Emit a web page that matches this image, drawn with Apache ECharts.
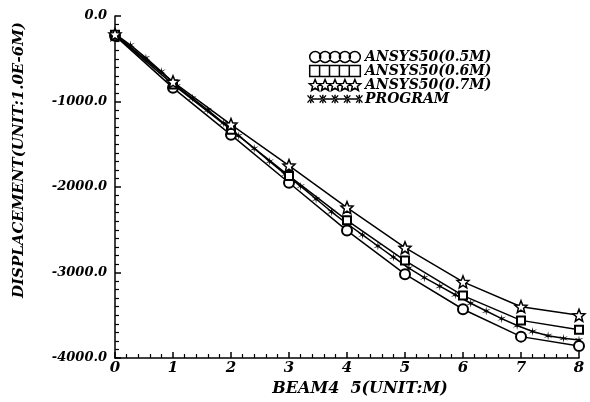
<!DOCTYPE html>
<html>
<head>
<meta charset="utf-8">
<script src="https://cdn.jsdelivr.net/npm/echarts@6/dist/echarts.min.js"></script>
<style>
  html, body { margin: 0; padding: 0; background: #fff; }
  #chart { width: 590px; height: 402px; }
</style>
</head>
<body>
<div id="chart"></div>
<script>
// beam positions (m)
var xStations = [0, 1, 2, 3, 4, 5, 6, 7, 8];
var ansys05 = [-230, -840, -1390, -1950, -2510, -3020, -3430, -3750, -3860];
var ansys06 = [-220, -800, -1330, -1870, -2390, -2860, -3270, -3560, -3670];
var ansys07 = [-215, -770, -1270, -1750, -2240, -2710, -3110, -3400, -3500];

// program output, 30 steps along the beam
var progX = [0, 0.267, 0.533, 0.8, 1.067, 1.333, 1.6, 1.867, 2.133, 2.4, 2.667, 2.933,
    3.2, 3.467, 3.733, 4, 4.267, 4.533, 4.8, 5.067, 5.333, 5.6, 5.867, 6.133, 6.4,
    6.667, 6.933, 7.2, 7.467, 7.733, 8];
var progY = [-210, -340, -490, -650, -820, -960, -1100, -1250, -1400, -1550, -1700, -1850,
    -1990, -2140, -2290, -2430, -2560, -2690, -2820, -2950, -3060, -3160, -3260, -3360, -3450,
    -3540, -3620, -3690, -3740, -3770, -3790];

var seriesNames = ['ANSYS50(0.5M)', 'ANSYS50(0.6M)', 'ANSYS50(0.7M)', 'PROGRAM'];

var FONT = 'DejaVu Serif';
var STAR = 'path://M0,-10 L2.6,-3.6 9.5,-3.1 4.2,1.4 5.9,8.1 0,4.4 -5.9,8.1 -4.2,1.4 -9.5,-3.1 -2.6,-3.6 Z';
var ASTER = 'path://M0,-10 L1.2,-2.1 8.7,-5 2.4,0 8.7,5 1.2,2.1 0,10 -1.2,2.1 -8.7,5 -2.4,0 -8.7,-5 -1.2,-2.1 Z';

function pairs(xs, ys) {
    var out = [];
    for (var i = 0; i < xs.length; i++) out.push([xs[i], ys[i]]);
    return out;
}

// legend icons: a row of five markers
function rowIcon(one, step) {
    var p = 'path://';
    for (var i = 0; i < 5; i++) p += one(i * step);
    return p;
}
var circleRow = rowIcon(function (cx) {
    return 'M' + (cx - 5) + ',0 A5,5 0 1,0 ' + (cx + 5) + ',0 A5,5 0 1,0 ' + (cx - 5) + ',0 Z ';
}, 9);
var rectRow = 'path://M0,-5 L46,-5 L46,5 L0,5 Z M9,-5 L9,5 M18,-5 L18,5 M27,-5 L27,5 M36,-5 L36,5';
var starRow = rowIcon(function (cx) {
    var pts = [[0,-10],[2.6,-3.6],[9.5,-3.1],[4.2,1.4],[5.9,8.1],[0,4.4],[-5.9,8.1],[-4.2,1.4],[-9.5,-3.1],[-2.6,-3.6]];
    var s = '';
    for (var j = 0; j < pts.length; j++) {
        s += (j === 0 ? 'M' : 'L') + (cx + pts[j][0] * 0.55) + ',' + (pts[j][1] * 0.55) + ' ';
    }
    return s + 'Z ';
}, 9);
var asterRow = 'path://M0,-0.8 L46,-0.8 L46,0.8 L0,0.8 Z ' + rowIcon(function (cx) {
    return 'M' + (cx - 0.7) + ',-4 L' + (cx + 0.7) + ',-4 L' + (cx + 0.7) + ',4 L' + (cx - 0.7) + ',4 Z ' +
        'M' + (cx - 3.5) + ',-3 L' + (cx - 2.5) + ',-3.8 L' + (cx + 3.5) + ',3 L' + (cx + 2.5) + ',3.8 Z ' +
        'M' + (cx + 3.5) + ',-3 L' + (cx + 2.5) + ',-3.8 L' + (cx - 3.5) + ',3 L' + (cx - 2.5) + ',3.8 Z ';
}, 11.5);

var hollow = { color: '#fff', borderColor: '#000', borderWidth: 1.5 };
var lineStyle = { color: '#000', width: 1.5 };

var option = {
    animation: false,
    backgroundColor: '#fff',
    grid: { left: 115, right: 11, top: 16, bottom: 44 },
    legend: {
        orient: 'vertical',
        left: 302,
        top: 45,
        itemWidth: 56,
        itemHeight: 11,
        itemGap: 0,
        textStyle: { fontFamily: FONT, fontWeight: 'bold', fontStyle: 'italic', fontSize: 14, color: '#000', padding: [0, 0, 0, -3] },
        data: [
            { name: seriesNames[0], icon: circleRow, itemStyle: hollow },
            { name: seriesNames[1], icon: rectRow, itemStyle: hollow },
            { name: seriesNames[2], icon: starRow, itemStyle: hollow },
            { name: seriesNames[3], icon: asterRow, itemStyle: { color: '#000', borderWidth: 0 } }
        ]
    },
    xAxis: {
        type: 'value',
        min: 0, max: 8, interval: 1,
        name: 'BEAM4  5(UNIT:M)',
        nameLocation: 'middle',
        nameGap: 22,
        nameTextStyle: { fontFamily: FONT, fontWeight: 'bold', fontStyle: 'italic', fontSize: 16, color: '#000', padding: [0, 0, 0, 26] },
        axisLine: { onZero: false, lineStyle: { color: '#000', width: 1.5 } },
        axisTick: { inside: true, length: 6, lineStyle: { color: '#000', width: 1.5 } },
        minorTick: { show: true, splitNumber: 5, length: 4, lineStyle: { color: '#000', width: 1.2 } },
        axisLabel: { fontFamily: FONT, fontWeight: 'bold', fontStyle: 'italic', fontSize: 15, color: '#000', margin: 3 },
        splitLine: { show: false }
    },
    yAxis: {
        type: 'value',
        min: -4000, max: 0, interval: 1000,
        name: 'DISPLACEMENT(UNIT:1.0E-6M)',
        nameLocation: 'middle',
        nameGap: 88,
        nameTextStyle: { fontFamily: FONT, fontWeight: 'bold', fontStyle: 'italic', fontSize: 15, color: '#000', padding: [0, 0, 0, 54] },
        axisLine: { onZero: false, lineStyle: { color: '#000', width: 1.5 } },
        axisTick: { inside: true, length: 6, lineStyle: { color: '#000', width: 1.5 } },
        minorTick: { show: true, splitNumber: 10, length: 4, lineStyle: { color: '#000', width: 1.2 } },
        axisLabel: {
            fontFamily: FONT, fontWeight: 'bold', fontStyle: 'italic', fontSize: 13, color: '#000', margin: 8,
            formatter: function (v) { return v.toFixed(1); }
        },
        splitLine: { show: false }
    },
    series: [
        {
            name: seriesNames[0], type: 'line', data: pairs(xStations, ansys05),
            symbol: 'emptyCircle', symbolSize: 10, z: 3,
            itemStyle: { color: '#000', borderWidth: 1.5 }, lineStyle: lineStyle
        },
        {
            name: seriesNames[1], type: 'line', data: pairs(xStations, ansys06),
            symbol: 'emptyRect', symbolSize: 8, z: 4,
            itemStyle: { color: '#000', borderWidth: 1.5 }, lineStyle: lineStyle
        },
        {
            name: seriesNames[2], type: 'line', data: pairs(xStations, ansys07),
            symbol: STAR, symbolSize: 12, z: 5,
            itemStyle: hollow, lineStyle: lineStyle
        },
        {
            name: seriesNames[3], type: 'line', data: pairs(progX, progY),
            symbol: ASTER, symbolSize: 9, showAllSymbol: true, z: 2,
            itemStyle: { color: '#000' }, lineStyle: lineStyle
        }
    ]
};

var chart = echarts.init(document.getElementById('chart'));
chart.setOption(option);
</script>
</body>
</html>
